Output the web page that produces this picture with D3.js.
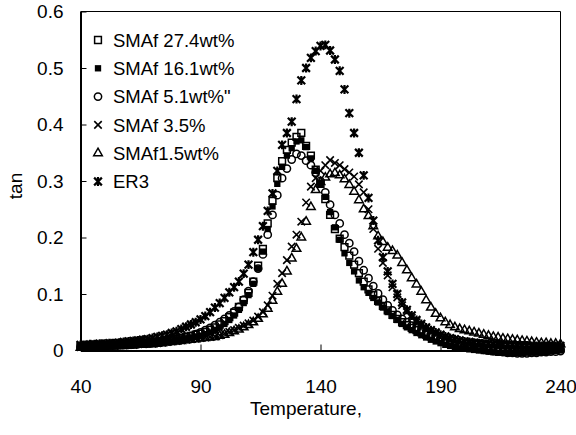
<!DOCTYPE html>
<html>
<head>
<meta charset="utf-8">
<script src="https://cdn.jsdelivr.net/npm/d3@7"></script>
<style>
  html, body { margin: 0; padding: 0; background: #fff; }
  svg { display: block; font-family: "Liberation Sans", Arial, sans-serif; }
</style>
</head>
<body>
<svg id="chart" width="576" height="435"></svg>
<script>
// temperature (deg C) shared by every series
const temps = [
  40, 42, 44, 46, 48, 50, 52, 54, 56, 58,
  60, 62, 64, 66, 68, 70, 72, 74, 76, 78,
  80, 82, 84, 86, 88, 90, 92, 94, 96, 98,
  100, 102, 104, 106, 108, 110, 112, 114, 116, 118,
  120, 122, 124, 126, 128, 130, 132, 134, 136, 138,
  140, 142, 144, 146, 148, 150, 152, 154, 156, 158,
  160, 162, 164, 166, 168, 170, 172, 174, 176, 178,
  180, 182, 184, 186, 188, 190, 192, 194, 196, 198,
  200, 202, 204, 206, 208, 210, 212, 214, 216, 218,
  220, 222, 224, 226, 228, 230, 232, 234, 236, 238,
  240
]

const sma274 = [
  0.008, 0.008, 0.008, 0.009, 0.009, 0.009, 0.010, 0.010, 0.010, 0.011,
  0.011, 0.012, 0.012, 0.013, 0.014, 0.015, 0.016, 0.017, 0.018, 0.019,
  0.021, 0.022, 0.024, 0.026, 0.028, 0.030, 0.033, 0.037, 0.041, 0.046,
  0.052, 0.059, 0.067, 0.077, 0.089, 0.102, 0.122, 0.150, 0.180, 0.225,
  0.265, 0.305, 0.335, 0.355, 0.368, 0.378, 0.385, 0.362, 0.345, 0.320,
  0.295, 0.268, 0.240, 0.215, 0.198, 0.183, 0.168, 0.152, 0.137, 0.122,
  0.108, 0.098, 0.088, 0.079, 0.071, 0.063, 0.056, 0.050, 0.045, 0.040,
  0.036, 0.032, 0.028, 0.025, 0.022, 0.019, 0.016, 0.014, 0.012, 0.010,
  0.009, 0.008, 0.007, 0.006, 0.005, 0.005, 0.004, 0.004, 0.003, 0.003,
  0.002, 0.002, 0.002, 0.001, 0.001, 0.001, 0.002, 0.002, 0.003, 0.003,
  0.004
]

const sma161 = [
  0.006, 0.006, 0.007, 0.007, 0.007, 0.008, 0.008, 0.008, 0.009, 0.009,
  0.009, 0.010, 0.010, 0.011, 0.011, 0.012, 0.013, 0.014, 0.015, 0.016,
  0.017, 0.019, 0.020, 0.022, 0.024, 0.026, 0.029, 0.032, 0.036, 0.041,
  0.047, 0.054, 0.062, 0.072, 0.084, 0.098, 0.118, 0.145, 0.175, 0.215,
  0.255, 0.295, 0.325, 0.345, 0.358, 0.370, 0.372, 0.360, 0.340, 0.318,
  0.295, 0.272, 0.245, 0.218, 0.196, 0.172, 0.155, 0.140, 0.124, 0.112,
  0.102, 0.093, 0.085, 0.076, 0.068, 0.061, 0.054, 0.047, 0.041, 0.036,
  0.031, 0.027, 0.023, 0.019, 0.016, 0.013, 0.010, 0.008, 0.006, 0.004,
  0.003, 0.002, 0.001, 0.000, -0.001, -0.002, -0.003, -0.004, -0.004, -0.005,
  -0.005, -0.005, -0.005, -0.004, -0.004, -0.004, -0.003, -0.003, -0.002, -0.001,
  0.000
]

const sma51 = [
  0.007, 0.007, 0.008, 0.008, 0.008, 0.009, 0.009, 0.009, 0.010, 0.010,
  0.011, 0.011, 0.012, 0.013, 0.013, 0.014, 0.015, 0.016, 0.018, 0.019,
  0.021, 0.022, 0.024, 0.026, 0.029, 0.032, 0.036, 0.040, 0.045, 0.050,
  0.056, 0.062, 0.069, 0.077, 0.090, 0.105, 0.122, 0.145, 0.170, 0.205,
  0.240, 0.275, 0.305, 0.322, 0.338, 0.348, 0.345, 0.336, 0.328, 0.315,
  0.300, 0.280, 0.258, 0.240, 0.225, 0.205, 0.190, 0.175, 0.158, 0.142,
  0.128, 0.114, 0.101, 0.090, 0.080, 0.071, 0.063, 0.056, 0.050, 0.044,
  0.039, 0.034, 0.030, 0.026, 0.022, 0.019, 0.016, 0.013, 0.011, 0.009,
  0.007, 0.006, 0.004, 0.003, 0.001, 0.000, -0.001, -0.002, -0.003, -0.004,
  -0.004, -0.005, -0.005, -0.005, -0.004, -0.004, -0.003, -0.003, -0.002, -0.002,
  -0.001
]

const sma35 = [
  0.006, 0.006, 0.007, 0.007, 0.007, 0.008, 0.008, 0.008, 0.009, 0.009,
  0.010, 0.010, 0.011, 0.011, 0.012, 0.012, 0.013, 0.014, 0.015, 0.016,
  0.017, 0.018, 0.019, 0.020, 0.021, 0.022, 0.023, 0.024, 0.025, 0.027,
  0.030, 0.033, 0.036, 0.040, 0.044, 0.048, 0.053, 0.060, 0.068, 0.080,
  0.097, 0.118, 0.137, 0.160, 0.184, 0.205, 0.228, 0.262, 0.290, 0.305,
  0.318, 0.328, 0.337, 0.332, 0.328, 0.321, 0.315, 0.308, 0.294, 0.280,
  0.250, 0.215, 0.180, 0.155, 0.133, 0.112, 0.094, 0.080, 0.068, 0.058,
  0.050, 0.044, 0.039, 0.034, 0.030, 0.027, 0.024, 0.021, 0.019, 0.017,
  0.015, 0.014, 0.013, 0.013, 0.012, 0.011, 0.011, 0.010, 0.010, 0.009,
  0.009, 0.008, 0.008, 0.008, 0.007, 0.007, 0.007, 0.006, 0.006, 0.006,
  0.005
]

const sma15 = [
  0.005, 0.005, 0.006, 0.006, 0.006, 0.007, 0.007, 0.007, 0.008, 0.008,
  0.009, 0.009, 0.010, 0.010, 0.011, 0.011, 0.012, 0.013, 0.014, 0.015,
  0.016, 0.017, 0.018, 0.019, 0.020, 0.021, 0.022, 0.023, 0.024, 0.026,
  0.028, 0.031, 0.034, 0.037, 0.041, 0.045, 0.050, 0.056, 0.064, 0.074,
  0.088, 0.104, 0.118, 0.140, 0.163, 0.180, 0.200, 0.228, 0.254, 0.284,
  0.298, 0.306, 0.312, 0.314, 0.310, 0.303, 0.293, 0.281, 0.266, 0.250,
  0.238, 0.220, 0.202, 0.192, 0.182, 0.176, 0.168, 0.155, 0.142, 0.128,
  0.117, 0.104, 0.089, 0.076, 0.065, 0.057, 0.050, 0.045, 0.041, 0.038,
  0.036, 0.034, 0.032, 0.030, 0.028, 0.026, 0.024, 0.023, 0.021, 0.020,
  0.019, 0.018, 0.017, 0.016, 0.015, 0.014, 0.013, 0.013, 0.012, 0.012,
  0.011
]

const er3 = [
  0.010, 0.010, 0.011, 0.011, 0.012, 0.012, 0.013, 0.013, 0.014, 0.015,
  0.016, 0.017, 0.018, 0.019, 0.020, 0.022, 0.024, 0.026, 0.028, 0.031,
  0.034, 0.038, 0.042, 0.046, 0.050, 0.055, 0.061, 0.068, 0.076, 0.084,
  0.093, 0.103, 0.112, 0.122, 0.136, 0.152, 0.174, 0.196, 0.220, 0.247,
  0.278, 0.318, 0.364, 0.385, 0.405, 0.445, 0.478, 0.500, 0.518, 0.530,
  0.539, 0.541, 0.531, 0.515, 0.495, 0.462, 0.420, 0.385, 0.350, 0.310,
  0.270, 0.230, 0.195, 0.165, 0.140, 0.118, 0.100, 0.085, 0.072, 0.062,
  0.054, 0.047, 0.041, 0.036, 0.032, 0.028, 0.025, 0.022, 0.020, 0.018,
  0.016, 0.015, 0.014, 0.013, 0.012, 0.012, 0.011, 0.011, 0.010, 0.010,
  0.010, 0.009, 0.009, 0.009, 0.008, 0.008, 0.008, 0.008, 0.008, 0.008,
  0.008
]

const seriesNames = ['SMAf 27.4wt%', 'SMAf 16.1wt%', 'SMAf 5.1wt%"', 'SMAf 3.5%', 'SMAf1.5wt%', 'ER3']
const seriesValues = [sma274, sma161, sma51, sma35, sma15, er3]
const xTicks = [40, 90, 140, 190, 240]
const yTicks = [0, 0.1, 0.2, 0.3, 0.4, 0.5, 0.6]

// excel-ish star: an x with a vertical bar through it
const symbolStar = {
  draw(ctx, size) {
    const r = Math.sqrt(size) / 2
    ctx.moveTo(-r, -r); ctx.lineTo(r, r)
    ctx.moveTo(-r, r); ctx.lineTo(r, -r)
    ctx.moveTo(0, -r * 1.15); ctx.lineTo(0, r * 1.15)
  }
}

const MARKERS = [
  { type: d3.symbolSquare,   size: 46, fill: 'none', stroke: '#000', sw: 1.5 },
  { type: d3.symbolSquare,   size: 40, fill: '#000', stroke: 'none', sw: 0 },
  { type: d3.symbolCircle,   size: 42, fill: 'none', stroke: '#000', sw: 1.5 },
  { type: d3.symbolX,        size: 38, fill: 'none', stroke: '#000', sw: 1.6 },
  { type: d3.symbolTriangle, size: 32, fill: 'none', stroke: '#000', sw: 1.5 },
  { type: symbolStar,        size: 60, fill: 'none', stroke: '#000', sw: 2.2 },
]

const FONT = 19
const plot = { left: 80.5, right: 560.5, top: 11.5, bottom: 350.5 }

const svg = d3.select('#chart')

const x = d3.scaleLinear().domain([40, 240]).range([plot.left, plot.right])
const y = d3.scaleLinear().domain([0, 0.6]).range([plot.bottom, plot.top])

// plot frame (top / right are thin)
svg.append('path')
  .attr('d', `M${plot.left},${plot.top}H${plot.right}V${plot.bottom}`)
  .attr('fill', 'none').attr('stroke', '#000').attr('stroke-width', 1)

const yAxis = svg.append('g')
  .attr('transform', `translate(${plot.left},0)`)
  .call(d3.axisLeft(y).tickValues(yTicks).tickSizeInner(-6).tickSizeOuter(0).tickPadding(17)
    .tickFormat(d => d === 0 ? '0' : d3.format('.1f')(d)))

const xAxis = svg.append('g')
  .attr('transform', `translate(0,${plot.bottom})`)
  .call(d3.axisBottom(x).tickValues(xTicks).tickSizeInner(-6).tickSizeOuter(0).tickPadding(29))

for (const g of [xAxis, yAxis]) {
  g.select('.domain').attr('stroke', '#000').attr('stroke-width', 2)
  g.selectAll('.tick line').attr('stroke', '#000').attr('stroke-width', 1)
  g.selectAll('.tick text')
    .attr('fill', '#000')
    .attr('font-size', FONT)
    .attr('font-family', '"Liberation Sans", Arial, sans-serif')
}

// series
seriesValues.forEach((vals, si) => {
  const m = MARKERS[si]
  const sym = d3.symbol().type(m.type).size(m.size)
  svg.append('g')
    .selectAll('path')
    .data(temps.map((t, i) => [t, vals[i]]))
    .join('path')
    .attr('transform', d => `translate(${x(d[0])},${y(d[1])})`)
    .attr('d', sym)
    .attr('fill', m.fill)
    .attr('stroke', m.stroke)
    .attr('stroke-width', m.sw)
})

// legend
const legend = svg.append('g').attr('transform', 'translate(98,40)')
seriesNames.forEach((name, i) => {
  const m = MARKERS[i]
  const row = legend.append('g').attr('transform', `translate(0,${i * 28.3})`)
  row.append('path')
    .attr('d', d3.symbol().type(m.type).size(m.size)())
    .attr('fill', m.fill)
    .attr('stroke', m.stroke)
    .attr('stroke-width', m.sw)
  row.append('text')
    .attr('x', 15)
    .attr('y', 6.6)
    .attr('font-size', 18.5)
    .attr('fill', '#000')
    .text(name)
})

// axis titles
svg.append('text')
  .attr('transform', 'translate(22,186) rotate(-90)')
  .attr('text-anchor', 'middle')
  .attr('font-size', FONT)
  .text('tan')

svg.append('text')
  .attr('x', 306)
  .attr('y', 415)
  .attr('text-anchor', 'middle')
  .attr('font-size', FONT)
  .text('Temperature,')
</script>
</body>
</html>
